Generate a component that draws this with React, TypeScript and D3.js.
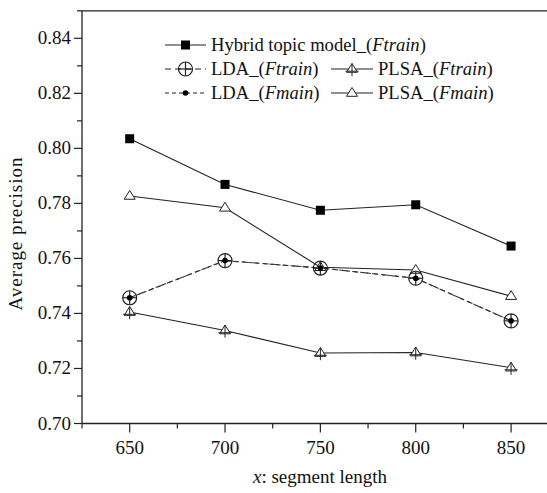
import React from "react";
import * as d3 from "d3";

const segmentLengths = [650, 700, 750, 800, 850];
const hybridFtrain = [0.8035, 0.7869, 0.7775, 0.7795, 0.7645];
const plsaFmain = [0.7827, 0.7784, 0.7568, 0.7558, 0.7463];
const ldaFtrain = [0.7457, 0.7592, 0.7565, 0.7528, 0.7373];
const ldaFmain = [0.7457, 0.7592, 0.7565, 0.7528, 0.7373];
const plsaFtrain = [0.7405, 0.7338, 0.7256, 0.7258, 0.7203];
const yTicks = [0.7, 0.72, 0.74, 0.76, 0.78, 0.8, 0.82, 0.84];
const yMinorTicks = [0.71, 0.73, 0.75, 0.77, 0.79, 0.81, 0.83, 0.85];
const xTicks = [650, 700, 750, 800, 850];
const xMinorTicks = [625, 675, 725, 775, 825, 875];

const W = 547;
const H = 493;
const FONT = "'Liberation Serif', 'Times New Roman', serif";
const INK = "#222";
const FS = 19;
const LFS = 18.6;

type MarkerKind = "square" | "circleCross" | "dot" | "triPlus" | "tri";

function Marker({ kind, x, y }: { kind: MarkerKind; x: number; y: number }) {
  if (kind === "square") {
    return <rect x={x - 4.5} y={y - 4.5} width={9} height={9} fill="#000" />;
  }
  if (kind === "circleCross") {
    const r = 7;
    return (
      <g stroke={INK} strokeWidth={1.2} fill="none">
        <circle cx={x} cy={y} r={r} fill="none" />
        <line x1={x - r} y1={y} x2={x + r} y2={y} />
        <line x1={x} y1={y - r} x2={x} y2={y + r} />
      </g>
    );
  }
  if (kind === "dot") {
    return <circle cx={x} cy={y} r={2.8} fill="#000" />;
  }
  const s = 5.5;
  const tri = `M${x},${y - s} L${x + s},${y + s * 0.6} L${x - s},${y + s * 0.6} Z`;
  if (kind === "tri") {
    return <path d={tri} fill="#fff" stroke={INK} strokeWidth={1} />;
  }
  return (
    <g stroke={INK} strokeWidth={1} fill="none">
      <path d={tri} fill="#fff" />
      <line x1={x} y1={y - s} x2={x} y2={y + s * 1.3} />
      <line x1={x - s - 1} y1={y + s * 0.4} x2={x + s + 1} y2={y + s * 0.4} />
    </g>
  );
}

const txt = { fontFamily: FONT };

export default function App() {
  const left = 82;
  const top = 10.8;
  const bottom = 423.5;
  const x = d3.scaleLinear().domain([625, 875]).range([left, left + 250 * 1.907]);
  const y = d3.scaleLinear().domain([0.7, 0.85]).range([bottom, top]);

  const line = d3
    .line<[number, number]>()
    .x((d) => x(d[0]))
    .y((d) => y(d[1]));

  const series: {
    name: string;
    values: number[];
    marker: MarkerKind;
    dash?: string;
  }[] = [
    { name: "plsaFtrain", values: plsaFtrain, marker: "triPlus" },
    { name: "plsaFmain", values: plsaFmain, marker: "tri" },
    { name: "hybrid", values: hybridFtrain, marker: "square" },
    { name: "ldaFtrain", values: ldaFtrain, marker: "circleCross", dash: "6,4" },
    { name: "ldaFmain", values: ldaFmain, marker: "dot", dash: "4,3" },
  ];

  const legendRows: { kind: MarkerKind; label: string; x0: number; x1: number; tx: number; y: number; dash?: string }[] = [
    { kind: "square", label: "Hybrid topic model_(", x0: 165, x1: 206, tx: 211, y: 45 },
    { kind: "circleCross", label: "LDA_(", x0: 165, x1: 206, tx: 211, y: 69, dash: "6,4" },
    { kind: "triPlus", label: "PLSA_(", x0: 331, x1: 373, tx: 378, y: 69 },
    { kind: "dot", label: "LDA_(", x0: 165, x1: 206, tx: 211, y: 93, dash: "4,3" },
    { kind: "tri", label: "PLSA_(", x0: 331, x1: 373, tx: 378, y: 93 },
  ];
  const legendItal = ["Ftrain", "Ftrain", "Ftrain", "Fmain", "Fmain"];

  return (
    <svg
      width={W}
      height={H}
      style={{ position: "absolute", left: 0, top: 0, background: "#fff" }}
      fontFamily={FONT}
    >
      <rect x={0} y={0} width={W} height={H} fill="#fff" />
      {/* frame */}
      <line x1={left} y1={top} x2={W} y2={top} stroke={INK} strokeWidth={1.3} />
      <line x1={left} y1={top} x2={left} y2={bottom} stroke={INK} strokeWidth={1.3} />
      <line x1={left} y1={bottom} x2={W} y2={bottom} stroke={INK} strokeWidth={1.3} />

      {/* y ticks */}
      {yTicks.map((t) => (
        <g key={"y" + t}>
          <line x1={left - 8} x2={left} y1={y(t)} y2={y(t)} stroke={INK} strokeWidth={1.2} />
          <text x={left - 11} y={y(t) + 6} textAnchor="end" fontSize={FS} fill="#111" style={txt}>
            {t.toFixed(2)}
          </text>
        </g>
      ))}
      {yMinorTicks.map((t) => (
        <line key={"ym" + t} x1={left - 5} x2={left} y1={y(t)} y2={y(t)} stroke={INK} strokeWidth={1.2} />
      ))}

      {/* x ticks */}
      {xTicks.map((t) => (
        <g key={"x" + t}>
          <line x1={x(t)} x2={x(t)} y1={bottom} y2={bottom + 9} stroke={INK} strokeWidth={1.2} />
          <text x={x(t)} y={bottom + 30} textAnchor="middle" fontSize={FS} fill="#111" style={txt}>
            {t}
          </text>
        </g>
      ))}
      {xMinorTicks.map((t) => (
        <line key={"xm" + t} x1={x(t)} x2={x(t)} y1={bottom} y2={bottom + 5} stroke={INK} strokeWidth={1.2} />
      ))}

      {/* axis titles */}
      <text x={320} y={483} textAnchor="middle" fontSize={FS} fill="#111" style={txt}>
        <tspan fontStyle="italic">x</tspan>: segment length
      </text>
      <text
        transform={`translate(22,234) rotate(-90)`}
        textAnchor="middle"
        fontSize={FS}
        fill="#111"
        style={txt}
        textLength={153}
        lengthAdjust="spacing"
      >
        Average precision
      </text>

      {/* series */}
      {series.map((s) => (
        <g key={s.name}>
          <path
            d={line(segmentLengths.map((v, i) => [v, s.values[i]] as [number, number])) || ""}
            fill="none"
            stroke={s.dash ? "#333" : INK}
            strokeWidth={1.1}
            strokeDasharray={s.dash}
          />
        </g>
      ))}
      {series.map((s) =>
        segmentLengths.map((v, i) => (
          <Marker key={s.name + i} kind={s.marker} x={x(v)} y={y(s.values[i])} />
        ))
      )}

      {/* legend */}
      {legendRows.map((r, i) => (
        <g key={"lg" + i}>
          <line x1={r.x0} x2={r.x1} y1={r.y} y2={r.y} stroke={INK} strokeWidth={1.1} strokeDasharray={r.dash} />
          <Marker kind={r.kind} x={(r.x0 + r.x1) / 2} y={r.y} />
          <text x={r.tx} y={r.y + 6} fontSize={LFS} fill="#111" style={txt}>
            {r.label}
            <tspan fontStyle="italic">{legendItal[i]}</tspan>)
          </text>
        </g>
      ))}
    </svg>
  );
}
